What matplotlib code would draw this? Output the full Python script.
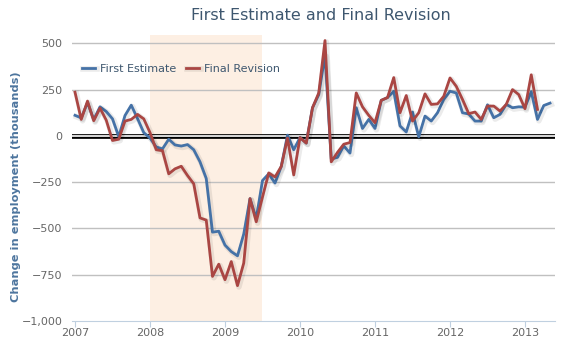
import numpy as np
import matplotlib
matplotlib.use('Agg')
import matplotlib.pyplot as plt
import matplotlib.patheffects as pe

# monthly change in employment (thousands), Jan 2007 onwards
first_estimate = [111, 97, 180, 88, 157, 132, 92, -4, 110, 166, 94, 18,
                  -12, -60, -70, -18, -49, -55, -47, -75, -140, -230, -520, -515,
                  -590, -625, -648, -530, -339, -446, -241, -205, -255, -165, 4, -75,
                  -9, -39, 152, 223, 437, -125, -116, -54, -93, 152, 40, 89,
                  40, 192, 207, 241, 54, 21, 129, -5, 107, 80, 125, 197,
                  241, 232, 125, 118, 80, 80, 168, 98, 116, 170, 152, 157,
                  155, 239, 89, 164, 177]
final_revision = [236, 89, 188, 82, 150, 85, -25, -18, 80, 89, 116, 92,
                  18, -75, -80, -205, -178, -164, -214, -259, -443, -455, -759, -693,
                  -777, -679, -809, -687, -339, -464, -330, -200, -222, -165, -12, -211,
                  -9, -39, 152, 232, 515, -140, -89, -45, -36, 232, 157, 111,
                  71, 192, 207, 315, 125, 218, 80, 125, 227, 170, 173, 214,
                  313, 268, 197, 120, 129, 89, 161, 161, 134, 170, 250, 223,
                  147, 330, 143]
recession = (2008.0, 2009.5)
year_ticks = [2007, 2008, 2009, 2010, 2011, 2012, 2013]
y_ticks = [-1000, -750, -500, -250, 0, 250, 500]

x_first = 2007 + np.arange(len(first_estimate)) / 12
x_final = 2007 + np.arange(len(final_revision)) / 12

fig = plt.figure(figsize=(5.69, 3.39), dpi=100)
ax = fig.add_axes([72/569, 18/339, 483/569, 286/339])

ax.axvspan(*recession, color='#FDEFE3', lw=0, zorder=0)
for t in y_ticks[1:]:
    ax.axhline(t, color='#C0C0C0', lw=1, zorder=1)

# double zero line
ax.axhline(0, color='black', lw=3.4, zorder=2)
ax.axhline(0, color='white', lw=1.2, zorder=2)

shadow = [pe.SimpleLineShadow(offset=(1, -1), alpha=0.08, shadow_color='black', linewidth=4),
          pe.Normal()]
ax.plot(x_first, first_estimate, color='#4572A7', lw=2.0, label='First Estimate',
        path_effects=shadow, zorder=3)
ax.plot(x_final, final_revision, color='#AA4643', lw=2.0, label='Final Revision',
        path_effects=shadow, zorder=4)

ax.set_xlim(2007 - 3/75, 2007 + 480/75)
ax.set_ylim(-1000, 545)
ax.set_xticks(year_ticks)
ax.set_xticklabels([str(y) for y in year_ticks])
ax.set_yticks(y_ticks)
ax.set_yticklabels([f'{v:,}'.replace('-', '\u2212') for v in y_ticks])

for s in ['top', 'right', 'left']:
    ax.spines[s].set_visible(False)
ax.spines['bottom'].set_color('#C0D0E0')
ax.tick_params(axis='x', colors='#C0D0E0', length=4, labelcolor='#666666', labelsize=8, pad=1)
ax.tick_params(axis='y', length=0, labelcolor='#666666', labelsize=8, pad=7)

ax.set_ylabel('Change in employment (thousands)', color='#4D759E', fontweight='bold',
              fontsize=8.2)
ax.yaxis.set_label_coords(-0.106, 0.47)

fig.text(321/569, 1 - 15/339, 'First Estimate and Final Revision', ha='center', va='center',
         color='#3E576F', fontsize=11.5)

leg = ax.legend(loc='upper left', bbox_to_anchor=(0.0, 0.935), ncol=2, frameon=False,
                fontsize=8, handlelength=1.2, columnspacing=0.9, handletextpad=0.4)
for txt in leg.get_texts():
    txt.set_color('#3E576F')

fig.savefig('out.png', dpi=100)
